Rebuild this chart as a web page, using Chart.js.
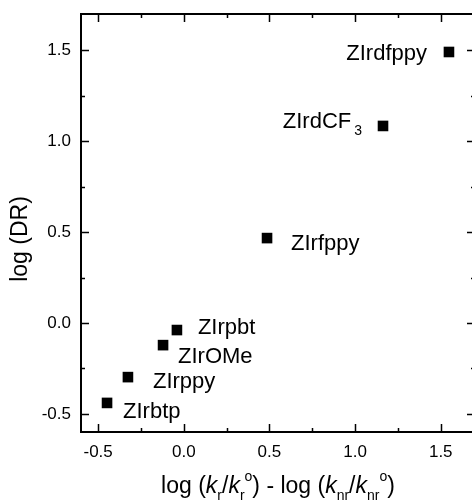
<!DOCTYPE html>
<html>
<head>
<meta charset="utf-8">
<script src="https://cdn.jsdelivr.net/npm/chart.js@4.4.0/dist/chart.umd.min.js"></script>
<style>
  html, body { margin: 0; padding: 0; background: #fff; overflow: hidden; }
  #wrap { width: 472px; height: 501px; overflow: hidden; }
</style>
</head>
<body>
<div id="wrap"><canvas id="chart" width="476" height="501"></canvas></div>
<script>
/* log(DR) vs log(kr/kr°) - log(knr/knr°) scatter */
const complexes = ['ZIrdfppy', 'ZIrdCF3', 'ZIrfppy', 'ZIrpbt', 'ZIrOMe', 'ZIrppy', 'ZIrbtp'];
const xValues   = [1.548, 1.163, 0.486, -0.040, -0.121, -0.326, -0.448];
const yValues   = [1.491, 1.084, 0.467, -0.039, -0.122, -0.298, -0.440];
const xTicks = [-0.5, 0.0, 0.5, 1.0, 1.5];
const yTicks = [-0.5, 0.0, 0.5, 1.0, 1.5];
const xMinor = [-0.25, 0.25, 0.75, 1.25];
const yMinor = [-0.25, 0.25, 0.75, 1.25];

const FONT = 'Arial, "Liberation Sans", sans-serif';

// label placement relative to marker (px), text parts
const labelStyle = [
  { dx: -22, dy: 8,  align: 'right', parts: [['ZIrdfppy', 'n']] },
  { dx: -21, dy: 2,  align: 'right', parts: [['ZIrdCF', 'n'], ['3', 'sub']] },
  { dx: 24,  dy: 12, align: 'left',  parts: [['ZIrfppy', 'n']] },
  { dx: 21,  dy: 4,  align: 'left',  parts: [['ZIrpbt', 'n']] },
  { dx: 15,  dy: 18, align: 'left',  parts: [['ZIrOMe', 'n']] },
  { dx: 25,  dy: 11, align: 'left',  parts: [['ZIrppy', 'n']] },
  { dx: 16,  dy: 15, align: 'left',  parts: [['ZIrbtp', 'n']] }
];

const partFonts = {
  n:   { font: '22px ' + FONT, dy: 0 },
  i:   { font: 'italic 23px ' + FONT, dy: 0 },
  t:   { font: '23px ' + FONT, dy: 0 },
  sub: { font: '14px ' + FONT, dy: 7 },
  sup: { font: '14px ' + FONT, dy: -12 }
};

function drawRich(ctx, parts, x, y, align) {
  let total = 0;
  const widths = parts.map(([t, s]) => {
    ctx.font = partFonts[s].font;
    const w = ctx.measureText(t).width + (s === 'sub' && t === '3' ? 3 : 0);
    total += w;
    return w;
  });
  let cx = align === 'right' ? x - total : align === 'center' ? x - total / 2 : x;
  parts.forEach(([t, s], i) => {
    ctx.font = partFonts[s].font;
    ctx.textAlign = 'left';
    ctx.textBaseline = 'alphabetic';
    const off = (s === 'sub' && t === '3') ? 3 : 0;
    ctx.fillText(t, cx + off, y + partFonts[s].dy);
    cx += widths[i];
  });
}

const framePlugin = {
  id: 'frame',
  afterDraw(chart) {
    const { ctx, chartArea: a, scales: { x, y } } = chart;
    ctx.save();
    ctx.strokeStyle = '#000';
    ctx.fillStyle = '#000';

    // ticks, inward on all sides
    ctx.lineWidth = 1.5;
    ctx.beginPath();
    const tick = (vals, len) => {
      vals.forEach(v => {
        const px = Math.round(x.getPixelForValue(v)) + 0.5;
        ctx.moveTo(px, a.bottom); ctx.lineTo(px, a.bottom - len);
        ctx.moveTo(px, a.top);    ctx.lineTo(px, a.top + len);
      });
    };
    const tickY = (vals, len) => {
      vals.forEach(v => {
        const py = Math.round(y.getPixelForValue(v)) + 0.5;
        ctx.moveTo(a.left, py);  ctx.lineTo(a.left + len, py);
        ctx.moveTo(a.right, py); ctx.lineTo(a.right - len, py);
      });
    };
    tick(xTicks, 8); tick(xMinor, 4);
    tickY(yTicks, 8); tickY(yMinor, 4);
    ctx.stroke();

    ctx.lineWidth = 2;
    ctx.strokeRect(a.left, a.top, a.right - a.left, a.bottom - a.top);

    // point labels
    const meta = chart.getDatasetMeta(0);
    meta.data.forEach((pt, i) => {
      const s = labelStyle[i];
      drawRich(ctx, s.parts, pt.x + s.dx, pt.y + s.dy, s.align);
    });

    // axis titles
    drawRich(ctx, [
      ['log (', 't'], ['k', 'i'], ['r', 'sub'], ['/', 't'], ['k', 'i'], ['r', 'sub'], ['o', 'sup'],
      [') - log (', 't'], ['k', 'i'], ['nr', 'sub'], ['/', 't'], ['k', 'i'], ['nr', 'sub'], ['o', 'sup'], [')', 't']
    ], 278, 493, 'center');

    ctx.translate(27, 239);
    ctx.rotate(-Math.PI / 2);
    ctx.font = '23px ' + FONT;
    ctx.textAlign = 'center';
    ctx.textBaseline = 'alphabetic';
    ctx.fillText('log (DR)', 0, 0);
    ctx.restore();
  }
};

const noPad = s => { s.paddingTop = 0; s.paddingBottom = 0; s.paddingLeft = 0; s.paddingRight = 0; };

new Chart(document.getElementById('chart'), {
  type: 'scatter',
  data: {
    labels: complexes,
    datasets: [{
      data: xValues.map((v, i) => ({ x: v, y: yValues[i] })),
      pointStyle: 'rect',
      pointRadius: 7.5,
      pointHoverRadius: 7.5,
      backgroundColor: '#000',
      borderWidth: 0,
      clip: false
    }]
  },
  options: {
    responsive: false,
    animation: false,
    layout: { autoPadding: false, padding: { top: 14, right: 1, left: 0, bottom: 0 } },
    plugins: { legend: { display: false }, tooltip: { enabled: false } },
    scales: {
      x: {
        type: 'linear', min: -0.6, max: 1.7,
        afterBuildTicks: s => { s.ticks = xTicks.map(v => ({ value: v })); },
        afterFit: s => { s.height = 69; noPad(s); },
        grid: { display: false, drawTicks: false },
        border: { display: false },
        ticks: { padding: 10, color: '#000', font: { size: 17, family: FONT }, maxRotation: 0,
                 callback: v => v.toFixed(1) }
      },
      y: {
        type: 'linear', min: -0.6, max: 1.7,
        afterBuildTicks: s => { s.ticks = yTicks.map(v => ({ value: v })); },
        afterFit: s => { s.width = 81; noPad(s); },
        grid: { display: false, drawTicks: false },
        border: { display: false },
        ticks: { padding: 10, color: '#000', font: { size: 17, family: FONT },
                 callback: v => v.toFixed(1) }
      }
    }
  },
  plugins: [framePlugin]
});
</script>
</body>
</html>
